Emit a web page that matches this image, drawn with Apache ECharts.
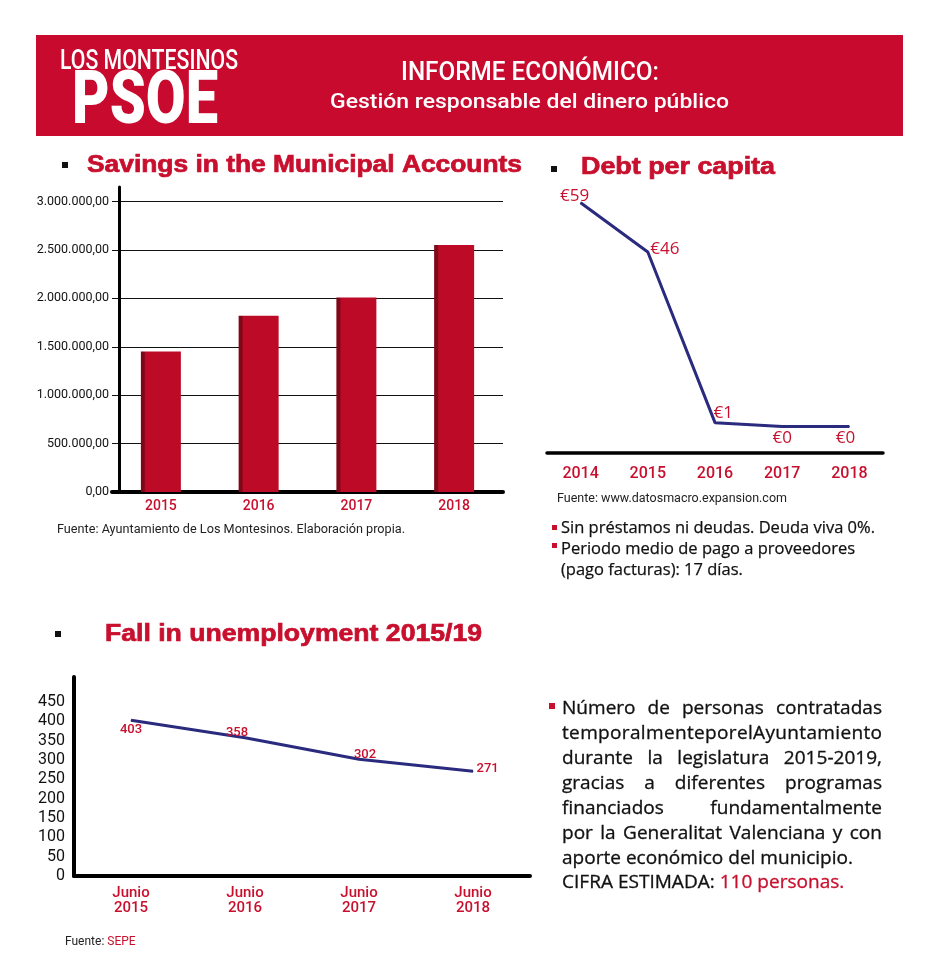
<!DOCTYPE html>
<html>
<head>
<meta charset="utf-8">
<script src="https://cdn.jsdelivr.net/npm/echarts@6.0.0/dist/echarts.min.js"></script>
<style>
  html, body { margin: 0; padding: 0; background: #ffffff; }
  #chart { width: 939px; height: 960px; }
</style>
</head>
<body>
<div id="chart"></div>
<script>
// ---------------- DATA ----------------
const savingsYears = ['2015', '2016', '2017', '2018'];
const savingsValues = [1450000, 1820000, 2010000, 2550000];

const debtYears = ['2014', '2015', '2016', '2017', '2018'];
const debtValues = [59, 46, 1, 0, 0];

const unempCategories = ['Junio\n2015', 'Junio\n2016', 'Junio\n2017', 'Junio\n2018'];
const unempValues = [403, 358, 302, 271];

const headerLine1 = 'LOS MONTESINOS';
const headerLine2 = 'PSOE';
const headerTitle = 'INFORME ECONÓMICO:';
const headerSubtitle = 'Gestión responsable del dinero público';

const titleSavings = 'Savings in the Municipal Accounts';
const titleDebt = 'Debt per capita';
const titleUnemp = 'Fall in unemployment 2015/19';

const sourceSavings = 'Fuente: Ayuntamiento de Los Montesinos. Elaboración propia.';
const sourceDebt = 'Fuente: www.datosmacro.expansion.com';
const sourceUnempPrefix = 'Fuente: ';
const sourceUnempName = 'SEPE';

const debtNotes = ['Sin préstamos ni deudas. Deuda viva 0%.', 'Periodo medio de pago a proveedores', '(pago facturas): 17 días.'];

const paragraphJustified = [
  'Número de personas contratadas',
  'temporalmenteporelAyuntamiento',
  'durante la legislatura 2015-2019,',
  'gracias a diferentes programas',
  'financiados fundamentalmente',
  'por la Generalitat Valenciana y con'
];
const paragraphPlain = 'aporte económico del municipio.';
const paragraphLastA = 'CIFRA ESTIMADA: ';
const paragraphLastB = '110 personas.';

// ---------------- STYLE ----------------
const RED = '#c8102e';
const HEADER_RED = '#c70a2d';
const BAR_RED = '#bd0b27';
const BAR_DARK = '#7e0718';
const NAVY = '#2a2a7e';
const NUMFONT = 'Roboto, "Noto Sans", sans-serif';
const TEXTFONT = '"Open Sans", "Noto Sans", sans-serif';
const TITLEFONT = '"Liberation Sans", Arial, "DejaVu Sans", sans-serif';

const ctx = document.createElement('canvas').getContext('2d');
function measure(str, font) { ctx.font = font; return ctx.measureText(str).width; }
function fontOf(o) { return (o.weight || 'normal') + ' ' + o.size + 'px ' + (o.family || NUMFONT); }

const graphics = [];
function addText(str, x, y, o) {
  const font = fontOf(o);
  let sx = o.scale || 1;
  if (o.width) sx = o.width / measure(str, font);
  const style = { text: str, fill: o.color || '#111', font: font,
    align: 'left', verticalAlign: 'middle', textAlign: 'left', textVerticalAlign: 'middle' };
  if (o.strokeWidth) { style.stroke = o.color || '#111'; style.lineWidth = o.strokeWidth; }
  graphics.push({ type: 'text', x: x, y: y, scaleX: sx, silent: true, style: style });
  return measure(str, font) * sx;
}
function addRect(x, y, w, h, color) {
  graphics.push({ type: 'rect', silent: true, shape: { x: x, y: y, width: w, height: h }, style: { fill: color } });
}

// Header
addRect(36, 35, 867, 101, HEADER_RED);
addText(headerLine1, 60, 62, { size: 28, weight: 500, color: '#fff', width: 178 });
addText(headerLine2, 72, 104, { size: 74, weight: 900, color: '#fff', width: 146 });
addText(headerTitle, 401, 73, { size: 26, weight: 500, color: '#fff', width: 258 });
addText(headerSubtitle, 330, 103, { size: 21, weight: 500, color: '#fff', width: 399 });

// Section titles + black bullets
const TOPT = { size: 23, weight: 'bold', color: RED, family: TITLEFONT, strokeWidth: 0.7 };
addRect(62, 162, 6, 6, '#111');
addText(titleSavings, 87, 166, Object.assign({}, TOPT, { width: 435 }));
addRect(551, 166, 6, 6, '#111');
addText(titleDebt, 581, 168, Object.assign({}, TOPT, { width: 194 }));
addRect(55, 631, 6, 6, '#111');
addText(titleUnemp, 105, 635, Object.assign({}, TOPT, { width: 377 }));

// Sources
addText(sourceSavings, 57, 530, { size: 12, color: '#222', width: 348 });
addText(sourceDebt, 557, 499, { size: 12, color: '#222', width: 230 });
const wPre = addText(sourceUnempPrefix, 65, 942, { size: 12, color: '#222' });
addText(sourceUnempName, 65 + wPre, 942, { size: 12, color: RED });

// Debt notes
addRect(552, 525, 5, 5, RED);
addRect(552, 543, 5, 5, RED);
const noteOpt = { size: 16, color: '#111', family: TEXTFONT, strokeWidth: 0.25 };
const noteScale = 314 / measure(debtNotes[0], fontOf(noteOpt));
addText(debtNotes[0], 561, 528, Object.assign({}, noteOpt, { scale: noteScale }));
addText(debtNotes[1], 561, 549, Object.assign({}, noteOpt, { scale: noteScale }));
addText(debtNotes[2], 561, 570, Object.assign({}, noteOpt, { scale: noteScale }));

// Justified paragraph
const PX0 = 562, PX1 = 882, PY0 = 709, PLH = 24.9;
const POPT = { size: 18, color: '#111', family: TEXTFONT, strokeWidth: 0.3 };
const PFONT = fontOf(POPT);
const PSCALE = 291 / measure(paragraphPlain, PFONT);
addRect(549, 703, 6, 6, RED);
paragraphJustified.forEach(function (line, i) {
  const y = PY0 + i * PLH;
  let parts = line.split(' ');
  if (parts.length === 1) parts = line.split('');
  const widths = parts.map(function (p) { return measure(p, PFONT) * PSCALE; });
  const total = widths.reduce(function (a, b) { return a + b; }, 0);
  const gap = (PX1 - PX0 - total) / (parts.length - 1);
  let x = PX0;
  parts.forEach(function (p, k) {
    addText(p, x, y, Object.assign({}, POPT, { scale: PSCALE }));
    x += widths[k] + gap;
  });
});
addText(paragraphPlain, PX0, PY0 + 6 * PLH, Object.assign({}, POPT, { scale: PSCALE }));
const wLast = addText(paragraphLastA, PX0, PY0 + 7 * PLH, Object.assign({}, POPT, { scale: PSCALE }));
addText(paragraphLastB, PX0 + wLast, PY0 + 7 * PLH, Object.assign({}, POPT, { scale: PSCALE, color: RED }));

// ---------------- CHART ----------------
function fmtES(v) {
  return Math.round(v).toString().replace(/\B(?=(\d{3})+(?!\d))/g, '.') + ',00';
}

const debtLabelPlacement = [
  { position: 'top', distance: 0, offset: [-6, 2] },
  { position: 'right', distance: 2, offset: [0, -3] },
  { position: 'right', distance: 0, offset: [-2, -10] },
  { position: 'bottom', distance: 3, offset: [0, 0] },
  { position: 'bottom', distance: 3, offset: [-4, 0] }
];
const unempLabelPlacement = [
  { position: 'bottom', distance: 2, offset: [0, 0] },
  { position: 'top', distance: 2, offset: [-8, 4] },
  { position: 'top', distance: 0, offset: [6, 2] },
  { position: 'right', distance: 3, offset: [0, -3] }
];

const chart = echarts.init(document.getElementById('chart'), null, { renderer: 'canvas' });
chart.setOption({
  animation: false,
  backgroundColor: '#ffffff',
  grid: [
    { left: 112, top: 187, right: 436, bottom: 468 },
    { left: 547, top: 199, right: 56, bottom: 507 },
    { left: 74, top: 677, right: 409, bottom: 84 }
  ],
  xAxis: [
    {
      gridIndex: 0, type: 'category', data: savingsYears,
      axisLine: { lineStyle: { color: '#000', width: 4 } },
      axisTick: { show: false },
      axisLabel: { color: RED, fontSize: 14, fontWeight: 500, fontFamily: NUMFONT, margin: 7 }
    },
    {
      gridIndex: 1, type: 'category', data: debtYears,
      axisLine: { onZero: false, lineStyle: { color: '#000', width: 3.5 } },
      axisTick: { show: false },
      axisLabel: { color: RED, fontSize: 16, fontWeight: 500, fontFamily: NUMFONT, margin: 13 }
    },
    {
      gridIndex: 2, type: 'category', data: unempCategories,
      axisLine: { lineStyle: { color: '#000', width: 4 } },
      axisTick: { show: false },
      axisLabel: { color: RED, fontSize: 15, fontWeight: 500, fontFamily: NUMFONT, margin: 10, lineHeight: 15 }
    }
  ],
  yAxis: [
    {
      gridIndex: 0, type: 'value', min: 0, max: 3150000, interval: 500000, offset: -7,
      axisLine: { show: true, lineStyle: { color: '#000', width: 3 } },
      axisTick: { show: false },
      splitLine: { show: true, showMaxLine: false, lineStyle: { color: '#111', width: 1.2 } },
      axisLabel: {
        color: '#111', fontSize: 12.5, fontFamily: NUMFONT, margin: 10, showMaxLabel: false,
        formatter: function (v) { return v <= 3000000 ? fmtES(v) : ''; }
      }
    },
    {
      gridIndex: 1, type: 'value', min: -7, max: 60, show: false,
      splitLine: { show: false }
    },
    {
      gridIndex: 2, type: 'value', min: 0, max: 515, interval: 50,
      axisLine: { show: true, lineStyle: { color: '#000', width: 4 } },
      axisTick: { show: false },
      splitLine: { show: false },
      axisLabel: {
        color: '#111', fontSize: 16, fontFamily: NUMFONT, margin: 9, showMaxLabel: false,
        formatter: function (v) { return v <= 450 ? String(v) : ''; }
      }
    }
  ],
  series: [
    {
      type: 'bar', xAxisIndex: 0, yAxisIndex: 0, data: savingsValues, barWidth: 40,
      itemStyle: {
        color: new echarts.graphic.LinearGradient(0, 0, 1, 0, [
          { offset: 0, color: BAR_DARK }, { offset: 0.08, color: BAR_DARK },
          { offset: 0.12, color: BAR_RED }, { offset: 1, color: BAR_RED }
        ])
      },
      silent: true
    },
    {
      type: 'line', xAxisIndex: 1, yAxisIndex: 1,
      data: debtValues.map(function (v, i) {
        const p = debtLabelPlacement[i];
        return { value: v, label: { position: p.position, distance: p.distance, offset: p.offset } };
      }),
      symbol: 'circle', symbolSize: 1, showSymbol: true,
      lineStyle: { color: NAVY, width: 3 }, itemStyle: { color: NAVY },
      label: { show: true, color: RED, fontSize: 17, fontFamily: TEXTFONT,
        formatter: function (p) { return '€' + p.value; } },
      silent: true
    },
    {
      type: 'line', xAxisIndex: 2, yAxisIndex: 2,
      data: unempValues.map(function (v, i) {
        const p = unempLabelPlacement[i];
        return { value: v, label: { position: p.position, distance: p.distance, offset: p.offset } };
      }),
      symbol: 'circle', symbolSize: 1, showSymbol: true,
      lineStyle: { color: NAVY, width: 3 }, itemStyle: { color: NAVY },
      label: { show: true, color: RED, fontSize: 13, fontWeight: 500, fontFamily: NUMFONT },
      silent: true
    }
  ],
  graphic: graphics
});
</script>
</body>
</html>
